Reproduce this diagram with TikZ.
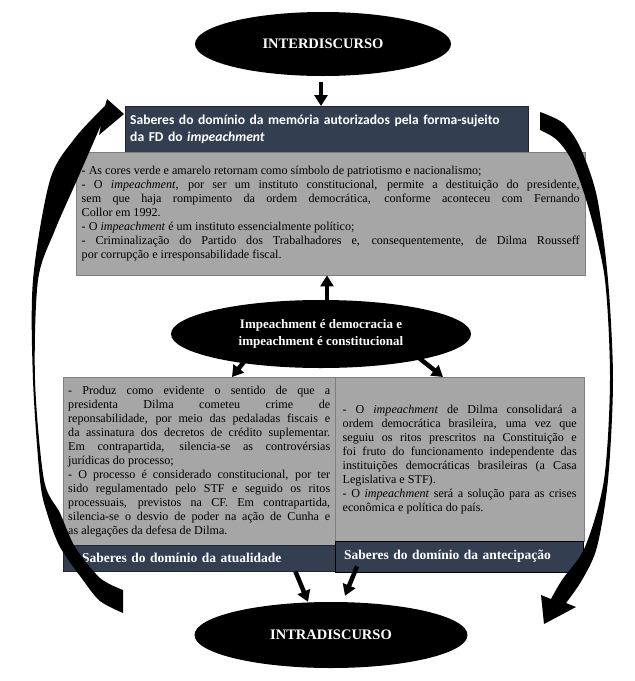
\documentclass[tikz,border=0pt]{standalone}
\usepackage{fontspec}
\setmainfont{Liberation Serif}
\newfontfamily\hdrfont{Carlito}
\usetikzlibrary{positioning,arrows.meta,shapes.geometric}
\definecolor{hdrblue}{HTML}{333F50}
\definecolor{boxgray}{HTML}{A6A6A6}
\definecolor{boxline}{HTML}{7F7F7F}
\setlength{\parindent}{0pt}
\tolerance=9999
\hyphenpenalty=10000
\exhyphenpenalty=10000
\tikzset{
  blackoval/.style={ellipse, fill=black, text=white, inner sep=0pt, align=center, font=\bfseries\fontsize{14.5}{17}\selectfont},
  hdrbox/.style={draw=hdrblue!60!black, fill=hdrblue, text=white, inner sep=0pt, anchor=north west, align=left},
  graybox/.style={draw=boxline, fill=boxgray, inner sep=0pt, anchor=north west, align=justify, font=\fontsize{12.1}{14}\selectfont},
  flowarrow/.style={-{Triangle[width=13pt,length=11pt]}, line width=4.5pt},
  bigarrow/.style={fill=black}
}
\begin{document}
\begin{tikzpicture}[x=1pt, y=-1pt]
  \useasboundingbox (0,0) rectangle (635,681);
  \node[blackoval, minimum width=256, minimum height=64] (inter) at (323,44) {INTERDISCURSO};
  \node[hdrbox, minimum width=403, minimum height=46, text width=393, font=\hdrfont\bfseries\fontsize{13.6}{17}\selectfont] (memhdr) at (125,106)
    {Saberes do domínio da memória autorizados pela forma-sujeito\\da FD do \textit{impeachment}};
  \node[graybox, minimum width=509, minimum height=123, text width=498] (memtext) at (76,152)
    {- As cores verde e amarelo retornam como símbolo de patriotismo e nacionalismo;\par
     - O \textit{impeachment}, por ser um instituto constitucional, permite a destituição do presidente,\linebreak
     sem que haja rompimento da ordem democrática, conforme aconteceu com Fernando\linebreak
     Collor em 1992.\par
     - O \textit{impeachment} é um instituto essencialmente político;\par
     - Criminalização do Partido dos Trabalhadores e, consequentemente, de Dilma Rousseff\linebreak
     por corrupção e irresponsabilidade fiscal.};
  \node[blackoval, minimum width=300, minimum height=68, font=\bfseries\fontsize{13}{17}\selectfont] (impdem) at (321,334)
    {Impeachment é democracia e\\impeachment é constitucional};
  \node[graybox, minimum width=272, minimum height=168, text width=262] (atualtext) at (63,377)
    {- Produz como evidente o sentido de que a\linebreak
     presidenta Dilma cometeu crime de\linebreak
     reponsabilidade, por meio das pedaladas fiscais e\linebreak
     da assinatura dos decretos de crédito suplementar.\linebreak
     Em contrapartida, silencia-se as controvérsias\linebreak
     jurídicas do processo;\par
     - O processo é considerado constitucional, por ter\linebreak
     sido regulamentado pelo STF e seguido os ritos\linebreak
     processuais, previstos na CF. Em contrapartida,\linebreak
     silencia-se o desvio de poder na ação de Cunha e\linebreak
     as alegações da defesa de Dilma.};
  \node[graybox, minimum width=249, minimum height=164, text width=234] (antectext) at (335,377)
    {- O \textit{impeachment} de Dilma consolidará a\linebreak
     ordem democrática brasileira, uma vez que\linebreak
     seguiu os ritos prescritos na Constituição e\linebreak
     foi fruto do funcionamento independente das\linebreak
     instituições democráticas brasileiras (a Casa\linebreak
     Legislativa e STF).\par
     - O \textit{impeachment} será a solução para as crises\linebreak
     econômica e política do país.};
  \node[hdrbox, minimum width=272, minimum height=26, text width=234, font=\bfseries\fontsize{13.5}{16}\selectfont] (atualhdr) at (63,545)
    {Saberes do domínio da atualidade};
  \node[hdrbox, draw=black, minimum width=248, minimum height=31, text width=230, font=\bfseries\fontsize{13.5}{16}\selectfont] (antechdr) at (335,541)
    {Saberes do domínio da antecipação};
  \node[blackoval, minimum width=273, minimum height=66] (intra) at (331,635) {INTRADISCURSO};
  \draw[flowarrow, shorten <=6pt] ([xshift=-2pt]inter.south) -- ([xshift=-2pt]inter.south |- memhdr.north);
  \draw[flowarrow] ([xshift=6pt]impdem.north) -- ([xshift=6pt]impdem.north |- memtext.south);
  \draw[flowarrow] ([xshift=32pt]impdem.south west) -- ([xshift=169pt]atualtext.north west);
  \draw[flowarrow] ([xshift=-8pt]impdem.south east) -- ([xshift=108pt]antectext.north west);
  \draw[flowarrow] ([xshift=-40pt]atualhdr.south east) -- ([xshift=-23pt]intra.north);
  \draw[flowarrow] ([xshift=22pt,yshift=6pt]antechdr.south west) -- ([xshift=14pt,yshift=6pt]intra.north);
  \fill[bigarrow] plot[smooth] coordinates {(123,613) (100,601) (83,580) (60,547) (47,513) (40,480) (33,380) (33,280) (50,180) (75,138) (105,106)}
    -- (107,99) -- (124,114) -- (99,135)
    -- plot[smooth] coordinates {(101,125) (77,180) (55,230) (38,280) (35,380) (44,480) (60,513) (75,547) (100,578) (123,590)} -- cycle;
  \fill[bigarrow] plot[smooth] coordinates {(540,112) (563,123) (580,147) (597,197) (608,280) (613,380) (608,480) (597,547) (582,580) (566,603)}
    -- (576,607) -- (544,624) -- (541,595)
    -- plot[smooth] coordinates {(551,599) (562,580) (585,547) (604,480) (610,380) (605,280) (590,213) (573,163) (557,140) (540,130)} -- cycle;
\end{tikzpicture}
\end{document}
